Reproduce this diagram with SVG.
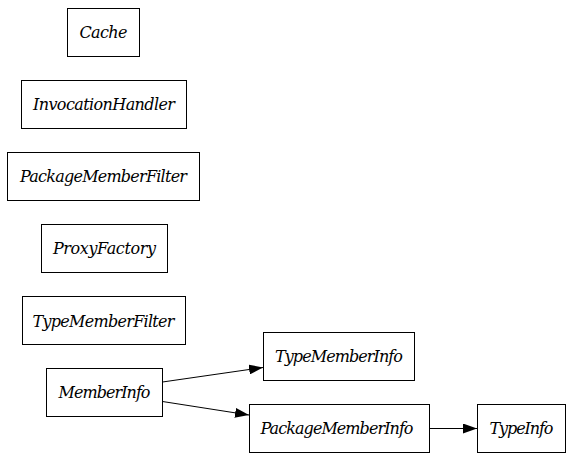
<svg xmlns="http://www.w3.org/2000/svg" width="572" height="459" viewBox="0 0 572 459">
<style>
rect{fill:#fff;stroke:#000;stroke-width:1}
.e{stroke:#000;stroke-width:1;fill:none}
</style>
<defs>
<marker id="a" markerWidth="14" markerHeight="10" refX="14" refY="5" orient="auto" markerUnits="userSpaceOnUse">
<path d="M0,0 L14,5 L0,10 Z" fill="#000"/>
</marker>
</defs>
<rect x="0" y="0" width="572" height="459" style="stroke:none"/>
<g font-family="DejaVu Serif, serif" font-style="italic" font-size="16" text-anchor="middle" fill="#000" lengthAdjust="spacingAndGlyphs">
<g id="Cache"><rect x="67.5" y="8.5" width="72" height="48"/><text x="103.5" y="38" textLength="48">Cache</text></g>
<g id="InvocationHandler"><rect x="21.5" y="80.5" width="165" height="48"/><text x="104" y="110" textLength="142">InvocationHandler</text></g>
<g id="PackageMemberFilter"><rect x="7.5" y="152.5" width="192" height="48"/><text x="103.5" y="182" textLength="167">PackageMemberFilter</text></g>
<g id="ProxyFactory"><rect x="41.5" y="224.5" width="126" height="48"/><text x="104.5" y="254" textLength="103">ProxyFactory</text></g>
<g id="TypeMemberFilter"><rect x="22.5" y="296.5" width="163" height="48"/><text x="103.5" y="327" textLength="142">TypeMemberFilter</text></g>
<g id="MemberInfo"><rect x="46.5" y="368.5" width="116" height="48"/><text x="104.5" y="398" textLength="92">MemberInfo</text></g>
<g id="TypeMemberInfo"><rect x="263.5" y="332.5" width="151" height="48"/><text x="339" y="362" textLength="128">TypeMemberInfo</text></g>
<g id="PackageMemberInfo"><rect x="249.5" y="404.5" width="180" height="48"/><text x="337" y="434" textLength="153">PackageMemberInfo</text></g>
<g id="TypeInfo"><rect x="477.5" y="404.5" width="88" height="48"/><text x="521.5" y="434" textLength="64">TypeInfo</text></g>
</g>
<g id="edges">
<path class="e" d="M162.5,382 L263,367.5" marker-end="url(#a)"/>
<path class="e" d="M162.5,401.5 L249,415" marker-end="url(#a)"/>
<path class="e" d="M429.5,428.5 L477,428.5" marker-end="url(#a)"/>
</g>
</svg>
